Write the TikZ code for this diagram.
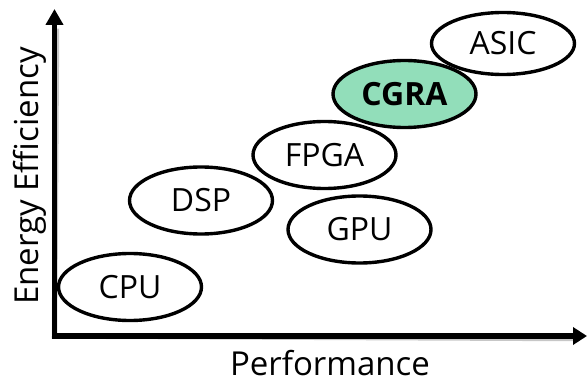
\documentclass[tikz,border=0pt]{standalone}
\usepackage{fontspec}
\setmainfont{Open Sans}
\usetikzlibrary{arrows.meta,shapes.geometric}
\definecolor{cgragreen}{RGB}{146,222,186}
\begin{document}
\begin{tikzpicture}[x=1pt,y=-1pt,
  ell/.style={draw=black, line width=3.4pt, ellipse, minimum width=143pt,
    minimum height=67pt, inner sep=0pt, font=\fontsize{32}{36}\selectfont,
    text height=22.8pt, text depth=0pt},
  axis/.style={line width=5.5pt, line join=miter,
    arrows={Triangle[width=17pt,length=16pt]-Triangle[width=17pt,length=14pt]}},
  axshadow/.style={line width=5.5pt, line join=miter, black!22},
  axlabel/.style={font=\fontsize{33}{38}\selectfont, inner sep=0pt, text depth=0pt}]
\useasboundingbox (0,0) rectangle (588,382);
% axes
\coordinate (O) at (54.5,336);
\coordinate (ytip) at (54.5,9);
\coordinate (xtip) at (587,336);
\draw[axshadow, shift={(2,2.5)}] (54.5,26) -- (O) -- (573,336);
\draw[axis] (ytip) -- (O) -- (xtip);
% axis labels
\node[axlabel, rotate=90, anchor=base] (ylab) at (38,176) {Energy Efficiency};
\node[axlabel, anchor=base] (xlab) at (330,375) {Performance};
% ellipses
\node[ell] (cpu) at (130,287) {CPU};
\node[ell] (dsp) at (201,200.5) {DSP};
\node[ell] (gpu) at (359.5,229.5) {GPU};
\node[ell, fill=cgragreen, font=\fontsize{32}{36}\selectfont\bfseries] (cgra) at (404.5,94) {CGRA};
\node[ell] (fpga) at (324.5,155) {FPGA};
\node[ell, minimum height=62pt] (asic) at (503,43.5) {ASIC};
\end{tikzpicture}
\end{document}
